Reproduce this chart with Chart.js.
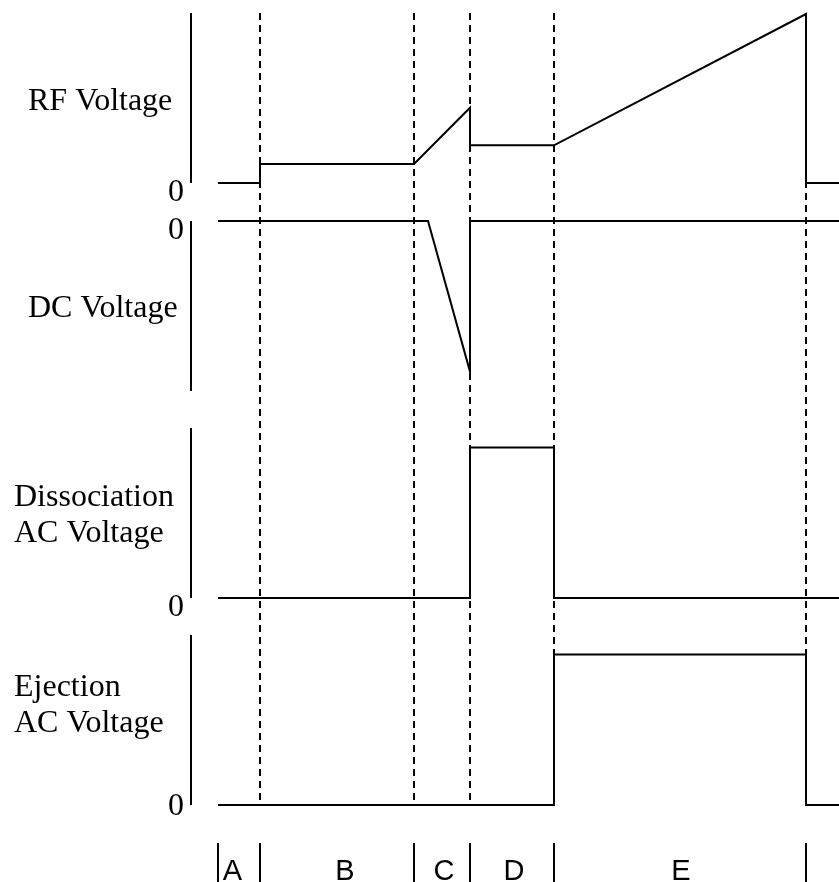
<!DOCTYPE html>
<html>
<head>
<meta charset="utf-8">
<title>Voltage sequence</title>
<script src="https://cdn.jsdelivr.net/npm/chart.js@4.4.1/dist/chart.umd.min.js"></script>
<style>
  html, body { margin: 0; padding: 0; background: #fff; }
  canvas { display: block; }
</style>
</head>
<body>
<canvas id="seqChart" width="839" height="882"></canvas>
<script>
// time axis (arbitrary units) and the phases of the sequence
const phaseNames = ['A', 'B', 'C', 'D', 'E'];
const phaseEdges = [0, 4.2, 19.6, 25.2, 33.6, 58.8];
const phaseLabelAt = [1.45, 12.7, 22.6, 29.6, 46.3];
const tEnd = 62.1;

// RF voltage
const rfTime = [0, 4.2, 4.2, 19.6, 25.2, 25.2, 33.6, 58.8, 58.8, 62.1];
const rfVolt = [0, 0, 0.112, 0.112, 0.443, 0.222, 0.222, 0.994, 0, 0];

// DC voltage
const dcTime = [0, 21.0, 25.2, 25.2, 62.1];
const dcVolt = [0, 0, -0.886, 0, 0];

// dissociation AC voltage
const dissTime = [0, 25.2, 25.2, 33.6, 33.6, 62.1];
const dissVolt = [0, 0, 0.885, 0.885, 0, 0];

// ejection AC voltage
const ejTime = [0, 33.6, 33.6, 58.8, 58.8, 62.1];
const ejVolt = [0, 0, 0.886, 0.886, 0, 0];

const serif = '"Liberation Serif", "Times New Roman", serif';
const sans = '"Liberation Sans", Arial, sans-serif';

// one stacked y axis per trace, top to bottom
const panels = [
  { id: 'rf', title: ['RF Voltage'], titleX: 28, titleAt: 0.43, lo: 0, hi: 1, min: -0.2235, max: 1, h: 208, zeroShift: 10, order: 4 },
  { id: 'dc', title: ['DC Voltage'], titleX: 28, titleAt: -0.563, lo: -1, hi: 0, min: -1.2176, max: 0, h: 207, zeroShift: 10, order: 3 },
  { id: 'diss', title: ['Dissociation', 'AC Voltage'], titleX: 14, titleAt: 0.331, lo: 0, hi: 1, min: -0.2176, max: 1, h: 207, zeroShift: 10, order: 2 },
  { id: 'ej', title: ['Ejection', 'AC Voltage'], titleX: 14, titleAt: 0.431, lo: 0, hi: 1, min: 0, max: 1, h: 170, zeroShift: 2, order: 1 }
];

function toPoints(ts, vs) {
  return ts.map((t, i) => ({ x: t, y: vs[i] }));
}

const traces = [
  toPoints(rfTime, rfVolt),
  toPoints(dcTime, dcVolt),
  toPoints(dissTime, dissVolt),
  toPoints(ejTime, ejVolt)
];

const scales = {
  x: { type: 'linear', min: 0, max: tEnd, display: false }
};
panels.forEach(p => {
  scales[p.id] = {
    type: 'linear',
    position: 'left',
    stack: 'traces',
    stackWeight: p.h,
    weight: p.order,
    min: p.min,
    max: p.max,
    grid: { display: false, drawTicks: false },
    border: { display: false },
    ticks: {
      padding: 34,
      labelOffset: p.zeroShift,
      color: '#000',
      font: { family: serif, size: 32 },
      callback: () => '0'
    },
    afterBuildTicks: s => { s.ticks = [{ value: 0 }]; },
    afterFit: s => {
      s.width = 218;
      s.paddingTop = 0;
      s.paddingBottom = 0;
    }
  };
});

// dashed phase markers behind the traces, axis bars, titles and phase letters
const phaseLines = {
  id: 'phaseLines',
  beforeDatasetsDraw(chart) {
    const { ctx, chartArea } = chart;
    const x = chart.scales.x;
    ctx.save();
    ctx.strokeStyle = '#000';
    ctx.lineWidth = 2;
    ctx.setLineDash([7, 5]);
    phaseEdges.slice(1).forEach(t => {
      const px = Math.round(x.getPixelForValue(t));
      ctx.beginPath();
      ctx.moveTo(px, chartArea.top);
      ctx.lineTo(px, chartArea.bottom);
      ctx.stroke();
    });
    ctx.restore();
  },
  afterDraw(chart) {
    const { ctx, chartArea } = chart;
    const x = chart.scales.x;
    ctx.save();
    ctx.strokeStyle = '#000';
    ctx.fillStyle = '#000';
    ctx.setLineDash([]);

    panels.forEach(p => {
      const s = chart.scales[p.id];
      const ax = chartArea.left - 27;
      ctx.lineWidth = 2;
      ctx.beginPath();
      ctx.moveTo(ax, s.getPixelForValue(p.hi));
      ctx.lineTo(ax, s.getPixelForValue(p.lo));
      ctx.stroke();

      ctx.font = '32px ' + serif;
      ctx.textAlign = 'left';
      ctx.textBaseline = 'alphabetic';
      const base = s.getPixelForValue(p.titleAt);
      const n = p.title.length;
      p.title.forEach((line, i) => {
        ctx.fillText(line, p.titleX, base - (n - 1 - i) * 36);
      });
    });

    const top = chartArea.bottom + 38;
    const bottom = chart.height;
    ctx.lineWidth = 2;
    phaseEdges.forEach(t => {
      const px = Math.round(x.getPixelForValue(t));
      ctx.beginPath();
      ctx.moveTo(px, top);
      ctx.lineTo(px, bottom);
      ctx.stroke();
    });
    ctx.font = '29px ' + sans;
    ctx.textAlign = 'center';
    ctx.textBaseline = 'alphabetic';
    phaseNames.forEach((name, i) => {
      ctx.fillText(name, x.getPixelForValue(phaseLabelAt[i]), bottom - 2);
    });
    ctx.restore();
  }
};

new Chart(document.getElementById('seqChart'), {
  type: 'line',
  data: {
    datasets: panels.map((p, i) => ({
      label: p.title.join(' '),
      data: traces[i],
      yAxisID: p.id,
      xAxisID: 'x',
      borderColor: '#000',
      borderWidth: 2,
      pointRadius: 0,
      tension: 0,
      fill: false,
      clip: false
    }))
  },
  options: {
    responsive: false,
    animation: false,
    layout: { padding: { top: 13, bottom: 77, left: 0, right: 0 } },
    plugins: {
      legend: { display: false },
      tooltip: { enabled: false }
    },
    scales: scales
  },
  plugins: [phaseLines]
});
</script>
</body>
</html>
